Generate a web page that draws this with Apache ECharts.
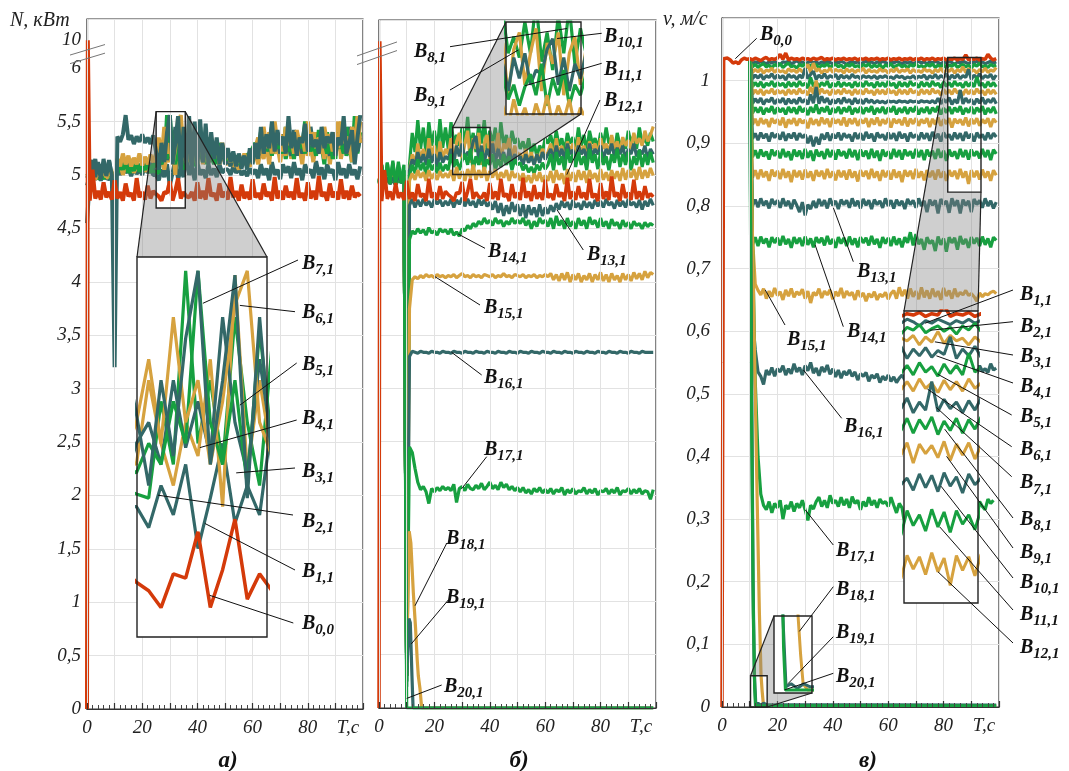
<!DOCTYPE html>
<html>
<head>
<meta charset="utf-8">
<script src="https://cdn.jsdelivr.net/npm/echarts@6.0.0/dist/echarts.min.js"></script>
<style>html,body{margin:0;padding:0;background:#fff}#chart{width:1069px;height:771px}</style>
</head>
<body>
<div id="chart"></div>
<script>
const RED = '#d43a0a', TEAL = '#336868', GOLD = '#d6a23f', GREEN = '#17a040';
const FONT = 'Liberation Serif';

// ---- panel a / b : power N, kW, sampled every 1 s from t = 0 ----
const N_B00_HEAD = [[0, 0], [0.3, 10]];
const N_B00 = [4.76,5.05,4.78,4.85,4.77,4.93,4.79,4.84,4.77,4.95,
  4.78,4.84,4.76,4.92,4.8,4.83,4.76,4.97,4.79,4.84,
  4.77,4.9,4.78,4.85,4.82,4.8,4.76,4.84,4.83,4.94,
  4.76,4.85,4.97,4.78,4.84,4.8,4.79,4.84,4.76,4.93,
  4.78,4.85,4.77,4.97,4.8,4.83,4.76,4.92,4.79,4.84,
  4.77,4.98,4.79,4.85,4.76,4.91,4.78,4.84,4.77,4.96,
  4.79,4.83,4.77,4.92,4.8,4.84,4.76,4.98,4.78,4.85,
  4.77,4.9,4.79,4.84,4.77,4.97,4.79,4.83,4.76,4.93,
  4.78,4.85,4.77,4.99,4.8,4.84,4.76,4.92,4.79,4.84,
  4.77,4.96,4.78,4.85,4.77,4.9,4.79,4.83,4.8]; // from t = 1

const N_B1 = [4.55,4.97,5.0,4.96,4.99,4.95,5.0,4.97,4.96,4.98, 4.97,
  5.05,5.0,5.08,5.02,5.06,4.99,5.07,5.01,5.05,5.0,5.08,5.02,5.05,5.0,
  5.0,4.95,5.05,4.98,5.1,4.9,5.02,5.15,4.96,5.05,4.98,5.2,5.0,5.08,4.95,5.12,5.0,5.05,4.97,5.1,5.0,5.06,4.98,5.1,5.02,5.05,
  5.05,5.0,5.08,5.02,5.06,5.0,5.04,4.99,5.06,5.01,
  5.05,4.97,5.1,5.0,5.06,4.95,5.12,5.0,5.05,4.96,5.1,5.02,5.08,4.97,5.12,5.0,5.06,4.95,5.1,5.02,5.05,4.97,5.13,5.0,5.07,4.96,5.1,5.02,5.05,4.95,5.12,5.0,5.06,4.97,5.1,5.0,5.05,4.96,5.08];
const N_B2 = [4.98,5.0,4.97,5.03,4.96,5.01,4.98,5.02,4.97,5.0, 4.99,
  5.08,5.03,5.12,5.05,5.1,5.02,5.14,5.05,5.09,5.03,5.12,5.06,5.1,5.04,
  5.03,5.02,5.25,5.1,5.56,5.15,5.3,5.1,5.45,5.2,5.05,5.38,5.12,5.3,5.08,5.42,5.15,5.25,5.1,5.35,5.12,5.28,5.1,5.3,5.15,5.2,
  5.12,5.18,5.1,5.15,5.08,5.14,5.1,5.2,5.12,5.25,
  5.3,5.18,5.4,5.22,5.35,5.15,5.45,5.25,5.3,5.2,5.38,5.15,5.28,5.22,5.4,5.18,5.32,5.25,5.5,5.2,5.3,5.15,5.35,5.22,5.28,5.1,5.4,5.2,5.3,5.15,5.45,5.22,5.35,5.18,5.3,5.12,5.55,5.2,5.4];
const N_B3 = [4.97,4.99,5.02,4.96,5.0,4.98,5.03,4.97,5.0,4.98, 4.97,
  5.05,5.12,5.0,5.1,5.04,5.15,5.02,5.1,5.05,5.12,5.03,5.1,5.06,5.12,
  5.1,5.3,5.15,5.05,5.2,5.12,5.35,5.0,5.55,5.08,5.3,5.12,5.4,5.1,5.25,5.15,5.35,5.1,5.28,5.12,5.22,5.15,5.3,5.1,5.2,5.12,
  5.1,5.15,5.08,5.12,5.05,5.15,5.1,5.12,5.08,5.15,
  5.2,5.1,5.25,5.15,5.3,5.1,5.35,5.2,5.28,5.12,5.3,5.18,5.45,5.15,5.32,5.2,5.25,5.1,5.35,5.18,5.3,5.12,5.4,5.2,5.28,5.15,5.33,5.1,5.3,5.2,5.5,5.15,5.3,5.2,5.35,5.12,5.4,5.25,5.5];
const N_B4 = [4.9,4.99,5.02,5.15,4.97,5.1,4.98,5.0,5.14,4.97, 4.98,
  5.1,5.05,5.15,5.08,5.12,5.04,5.14,5.06,5.1,5.03,5.12,5.07,5.11,5.05,
  5.15,5.2,5.1,5.3,5.14,5.25,5.12,5.45,5.2,5.08,5.35,5.15,5.28,5.1,5.4,5.2,5.3,5.12,5.35,5.18,5.28,5.1,5.3,5.15,5.25,5.1,
  5.15,5.08,5.2,5.1,5.14,5.06,5.18,5.1,5.22,5.12,
  5.25,5.18,5.3,5.2,5.35,5.22,5.4,5.25,5.32,5.2,5.38,5.24,5.3,5.18,5.42,5.25,5.35,5.2,5.3,5.22,5.45,5.25,5.33,5.2,5.38,5.26,5.3,5.18,5.4,5.22,5.35,5.25,5.32,5.2,5.45,5.28,5.3,5.22,5.35];
const N_B5 = [4.99,5.03,4.97,5.05,4.98,5.02,4.96,5.04,4.99,5.01, 5.0,
  5.02,5.1,5.05,5.12,5.02,5.08,5.04,5.13,5.03,5.09,5.05,5.11,5.02,5.1,
  5.08,5.15,5.1,5.25,5.15,5.56,5.2,5.1,5.3,5.05,5.42,5.15,5.5,5.1,5.35,5.2,5.45,5.12,5.3,5.18,5.25,5.1,5.3,5.15,5.22,5.18,
  5.14,5.2,5.12,5.18,5.1,5.16,5.12,5.2,5.14,5.22,
  5.18,5.3,5.2,5.42,5.22,5.35,5.18,5.4,5.25,5.3,5.2,5.45,5.22,5.3,5.15,5.38,5.25,5.32,5.2,5.4,5.22,5.3,5.18,5.42,5.25,5.3,5.2,5.35,5.15,5.4,5.25,5.3,5.2,5.45,5.22,5.35,5.25,5.38,5.3];
const N_B6 = [4.98,5.0,5.04,4.97,5.01,4.99,5.03,4.98,5.02,4.99, 4.98,
  5.15,5.08,5.2,5.1,5.18,5.08,5.16,5.1,5.2,5.09,5.17,5.1,5.19,5.12,
  5.2,5.35,5.15,5.45,5.2,5.3,5.1,5.25,5.48,5.56,5.2,5.12,5.45,5.18,5.35,5.1,5.4,5.2,5.3,5.15,5.35,5.2,5.28,5.12,5.3,5.18,
  5.2,5.12,5.18,5.1,5.15,5.12,5.2,5.1,5.18,5.15,
  5.25,5.35,5.2,5.45,5.25,5.4,5.2,5.5,5.3,5.38,5.22,5.45,5.28,5.35,5.2,5.42,5.3,5.36,5.22,5.5,5.28,5.4,5.25,5.35,5.2,5.45,5.3,5.38,5.22,5.4,5.25,5.5,5.3,5.36,5.2,5.45,5.28,5.55,5.3];
const N_B7 = [4.97,5.02,5.14,4.98,5.12,4.96,5.15,4.99,5.13,5.0, 3.2,
  5.36,5.31,5.38,5.56,5.33,5.37,5.29,5.36,5.31,5.38,5.3,5.35,5.29,5.37,
  5.22,5.05,5.3,5.12,5.4,5.56,5.1,5.3,5.55,5.02,5.45,5.1,5.55,5.05,5.5,5.08,5.52,5.12,5.48,5.1,5.4,5.15,5.35,5.1,5.3,5.15,
  5.25,5.12,5.22,5.08,5.2,5.1,5.18,5.05,5.25,5.1,
  5.3,5.15,5.45,5.2,5.38,5.25,5.5,5.22,5.42,5.28,5.36,5.2,5.55,5.25,5.4,5.18,5.35,5.3,5.48,5.22,5.38,5.26,5.33,5.2,5.45,5.25,5.36,5.3,5.4,5.18,5.35,5.28,5.55,5.2,5.3,5.42,5.1,5.35,5.56];

const N_B8 = [4.95,5.08,4.9,5.12,4.93,5.1,4.92,5.13,4.95,5.05, 0.3,
  5.1,5.4,5.22,5.52,5.25,5.45,5.2,5.5,5.28,5.42,5.22,5.53,5.26,5.45,
  5.25,5.5,5.3,5.38,5.28,5.45,5.3,5.55,5.26,5.4,5.22,5.48,5.3,5.52,5.25,5.42,5.3,5.45,5.2,5.5,5.28,5.38,5.22,5.42,5.3,5.35,
  5.25,5.32,5.22,5.35,5.2,5.3,5.18,5.28,5.22,5.35,
  5.3,5.38,5.25,5.42,5.28,5.35,5.22,5.4,5.3,5.36,5.25,5.45,5.28,5.38,5.22,5.42,5.3,5.35,5.25,5.4,5.28,5.45,5.3,5.36,5.22,5.4,5.28,5.33,5.25,5.42,5.3,5.38,5.25,5.45,5.3,5.35,5.28,5.4,5.32];
const N_B9 = [4.96,5.0,4.94,5.03,4.95,5.01,4.93,5.04,4.96,5.0, 0.35,
  5.05,5.2,5.1,5.3,5.15,5.25,5.12,5.35,5.18,5.28,5.1,5.32,5.15,5.25,
  5.2,5.35,5.1,5.32,5.4,5.15,5.3,5.42,5.12,5.35,5.25,5.4,5.1,5.3,5.38,5.15,5.32,5.22,5.4,5.12,5.3,5.25,5.35,5.15,5.28,5.2,
  5.2,5.15,5.25,5.12,5.22,5.1,5.2,5.15,5.25,5.18,
  5.22,5.3,5.15,5.35,5.2,5.28,5.12,5.32,5.22,5.3,5.18,5.36,5.2,5.28,5.15,5.32,5.25,5.3,5.2,5.35,5.25,5.3,5.2,5.38,5.25,5.32,5.22,5.36,5.28,5.33,5.25,5.4,5.3,5.35,5.28,5.42,5.32,5.38,5.46];
const N_B10 = [4.95,4.98,4.93,5.0,4.94,4.99,4.95,5.01,4.94,4.98, 0.3,
  5.05,5.15,5.1,5.22,5.12,5.2,5.1,5.25,5.12,5.2,5.08,5.22,5.12,5.18,
  5.15,5.25,5.12,5.28,5.18,5.3,5.15,5.22,5.2,5.32,5.37,5.15,5.28,5.12,5.25,5.18,5.3,5.12,5.25,5.15,5.22,5.1,5.25,5.12,5.2,5.15,
  5.18,5.1,5.2,5.12,5.18,5.1,5.2,5.12,5.22,5.15,
  5.2,5.25,5.15,5.28,5.18,5.25,5.15,5.3,5.2,5.24,5.15,5.28,5.2,5.25,5.15,5.3,5.18,5.25,5.2,5.28,5.15,5.25,5.2,5.3,5.18,5.26,5.2,5.28,5.15,5.25,5.2,5.3,5.18,5.24,5.2,5.28,5.15,5.25,5.2];
const N_B11 = [4.94,5.1,4.92,5.08,4.95,5.12,4.93,5.06,4.96,5.1, 0.25,
  5.0,5.1,5.02,5.15,5.05,5.12,5.0,5.15,5.05,5.1,5.02,5.12,5.04,5.1,
  5.05,5.2,5.08,5.15,5.05,5.14,5.2,5.1,5.25,5.05,5.18,5.1,5.22,5.05,5.15,5.1,5.2,5.05,5.15,5.08,5.2,5.1,5.18,5.05,5.15,5.1,
  5.12,5.05,5.1,5.03,5.08,5.02,5.1,5.05,5.12,5.06,
  5.1,5.2,5.05,5.22,5.1,5.18,5.05,5.25,5.12,5.2,5.08,5.22,5.1,5.18,5.05,5.25,5.12,5.2,5.06,5.22,5.1,5.18,5.05,5.2,5.12,5.25,5.08,5.2,5.1,5.22,5.05,5.18,5.1,5.24,5.08,5.2,5.1,5.22,5.12];
const N_B12 = [4.97,4.99,4.95,5.02,4.96,4.99,4.94,5.01,4.97,4.99, 0.3,
  4.95,5.02,4.96,5.05,4.98,5.03,4.95,5.05,4.97,5.02,4.96,5.04,4.98,5.02,
  4.98,5.05,4.95,5.08,4.97,5.04,4.95,5.06,4.98,5.1,4.96,5.05,4.98,5.08,4.95,5.04,4.98,5.06,4.96,5.03,4.98,5.05,4.95,5.04,4.98,5.02,
  4.95,5.02,4.94,5.0,4.93,5.02,4.95,5.03,4.94,5.0,
  4.95,5.04,4.93,5.05,4.96,5.02,4.92,5.06,4.95,5.03,4.94,5.05,4.96,5.04,4.93,5.05,4.97,5.02,4.94,5.06,4.96,5.03,4.95,5.05,4.97,5.04,4.95,5.07,4.96,5.05,4.98,5.06,4.96,5.08,4.97,5.05,4.98,5.07,5.0];
const N_B13 = [4.93,4.97,4.9,4.98,4.92,4.96,4.91,4.97,4.93,4.96, 0.2,
  4.72,4.78,4.7,4.77,4.71,4.78,4.72,4.76,4.7,4.78,4.73,4.77,4.71,4.76,
  4.72,4.78,4.7,4.77,4.73,4.79,4.71,4.78,4.72,4.76,4.7,4.78,4.72,4.77,4.71,4.75,4.68,4.76,4.65,4.74,4.62,4.72,4.64,4.75,4.66,4.73,
  4.62,4.73,4.6,4.72,4.63,4.7,4.61,4.73,4.62,4.7,
  4.64,4.72,4.66,4.74,4.68,4.76,4.7,4.75,4.68,4.77,4.7,4.74,4.68,4.76,4.7,4.75,4.69,4.77,4.71,4.76,4.7,4.78,4.72,4.75,4.69,4.77,4.71,4.76,4.7,4.78,4.72,4.75,4.7,4.77,4.68,4.76,4.71,4.78,4.72];
const N_B14 = [4.92,4.99,4.9,4.97,4.93,4.98,4.91,4.96,4.94,4.97, 0.25,
  4.4,4.48,4.45,4.5,4.46,4.49,4.44,4.51,4.46,4.48,4.44,4.5,4.47,4.49,
  4.45,4.5,4.44,4.47,4.43,4.5,4.48,4.53,4.5,4.55,4.52,4.57,4.54,4.6,4.55,4.58,4.53,4.6,4.55,4.58,4.52,4.57,4.54,4.6,4.55,4.58,
  4.55,4.6,4.53,4.58,4.5,4.57,4.52,4.6,4.55,4.58,
  4.52,4.6,4.5,4.62,4.53,4.58,4.5,4.6,4.52,4.57,4.5,4.6,4.53,4.58,4.5,4.61,4.54,4.58,4.51,4.6,4.52,4.57,4.5,4.59,4.53,4.56,4.5,4.58,4.52,4.56,4.5,4.57,4.53,4.55,4.5,4.56,4.52,4.55,4.53];
const N_B15 = [4.95,4.98,4.94,5.0,4.95,4.97,4.93,4.99,4.95,4.97, 0.3,
  3.75,4.02,4.05,4.03,4.06,4.04,4.07,4.05,4.06,4.04,4.07,4.05,4.06,4.04,
  4.06,4.05,4.07,4.04,4.06,4.08,4.05,4.06,4.04,4.07,4.05,4.06,4.04,4.07,4.06,4.05,4.07,4.04,4.06,4.05,4.08,4.05,4.06,4.04,4.07,4.06,
  4.05,4.07,4.04,4.06,4.05,4.07,4.04,4.06,4.05,4.07,
  4.05,4.08,4.02,4.07,4.01,4.08,4.02,4.09,4.0,4.07,4.02,4.08,4.0,4.06,4.02,4.08,4.0,4.07,4.02,4.09,4.01,4.07,4.0,4.08,4.02,4.06,4.0,4.08,4.02,4.07,4.01,4.09,4.03,4.08,4.02,4.1,4.04,4.09,4.07];
const N_B16 = [4.94,4.97,4.93,4.98,4.95,4.96,4.94,4.98,4.95,4.97, 0.3,
  3.3,3.35,3.34,3.33,3.35,3.34,3.34,3.33,3.35,3.34,3.34,3.33,3.35,3.34,
  3.34,3.33,3.35,3.34,3.34,3.33,3.35,3.34,3.34,3.33,3.35,3.34,3.34,3.33,3.35,3.34,3.34,3.33,3.35,3.34,3.34,3.33,3.35,3.34,3.34,3.33,
  3.35,3.34,3.34,3.33,3.35,3.34,3.34,3.33,3.35,3.34,
  3.34,3.33,3.35,3.34,3.34,3.33,3.35,3.34,3.34,3.33,3.35,3.34,3.34,3.33,3.35,3.34,3.34,3.33,3.35,3.34,3.34,3.33,3.35,3.34,3.34,3.33,3.35,3.34,3.34,3.33,3.35,3.34,3.34,3.33,3.35,3.34,3.34,3.34,3.34];
const N_B17 = [4.93,4.98,4.92,4.99,4.94,4.97,4.92,4.98,4.94,4.96, 0.3,
  2.45,2.4,2.25,2.12,2.05,2.08,2.03,1.92,2.06,2.03,2.07,2.04,2.08,2.05,
  2.07,2.04,2.1,1.93,2.06,2.08,2.04,2.1,2.06,2.05,2.09,2.06,2.11,2.05,2.08,2.12,2.06,2.09,2.05,2.12,2.07,2.1,2.05,2.08,2.04,2.07,
  2.03,2.07,2.02,2.05,2.01,2.06,2.03,2.07,2.02,2.05,
  2.02,2.06,2.01,2.05,2.03,2.07,2.0,2.05,2.02,2.06,2.01,2.04,2.03,2.07,2.01,2.05,2.02,2.06,2.0,2.04,2.03,2.06,2.01,2.05,2.02,2.07,2.0,2.04,2.03,2.06,2.01,2.05,2.02,2.06,2.01,2.04,2.03,1.96,2.05];
const N_B18 = [[0,4.95],[1,4.98],[2,4.94],[3,4.99],[4,4.95],[5,4.97],[6,4.93],[7,4.98],[8,4.95],[9,4.97],
  [10,0.4],[10.9,1.66],[11.5,1.55],[12.4,1.08],[13.2,0.75],[13.8,0.45],[14.2,0.3],[14.8,0.18],[15.4,0],[99,0]];
const N_B19 = [[0,4.94],[1,4.99],[2,4.93],[3,4.98],[4,4.94],[5,4.98],[6,4.92],[7,4.99],[8,4.94],[9,4.96],
  [10,0.3],[10.8,0.84],[11.3,0.8],[11.9,0.3],[12.3,0],[99,0]];
const N_B20 = [[0,4.93],[1,5.1],[2,4.9],[3,5.12],[4,4.92],[5,5.14],[6,4.91],[7,5.1],[8,4.93],[9,5.05],[10,0],[99,0]];

// ---- panel c : speed v, m/s; B1..B17 sampled every 1 s from t = 10 ----
const V_B00_HEAD = [[0, 0], [0.6, 1.035]];
const V_B00 = [1.034,1.036,1.033,1.028,1.03,1.027,1.033,1.036,1.034,1.035,
  1.033,1.036,1.034,1.032,1.035,1.037,1.033,1.035,1.034,1.036,
  1.042,1.034,1.044,1.033,1.036,1.034,1.035,1.033,1.036,1.034,
  1.035,1.033,1.036,1.034,1.035,1.037,1.033,1.035,1.034,1.036,
  1.033,1.035,1.034,1.036,1.033,1.035,1.034,1.036,1.033,1.035,
  1.034,1.036,1.033,1.035,1.034,1.036,1.033,1.035,1.034,1.036,
  1.033,1.035,1.034,1.036,1.033,1.035,1.034,1.036,1.033,1.035,
  1.034,1.036,1.033,1.035,1.034,1.036,1.033,1.035,1.034,1.036,
  1.033,1.035,1.034,1.036,1.033,1.035,1.034,1.041,1.033,1.035,
  1.034,1.036,1.033,1.035,1.034,1.042,1.036,1.033,1.035]; // from t = 1

const V_B1 = [1.033,1.027,1.03,1.028,1.031,1.029,1.027,1.03,1.028,1.031,1.028,1.026,1.03,1.029,1.031,1.027,1.029,1.032,1.028,1.03,1.027,1.029,1.031,1.028,1.03,1.027,1.03,1.028,1.031,1.029,1.027,1.03,1.028,1.031,1.029,1.026,1.029,1.031,1.028,1.03,1.027,1.029,1.031,1.028,1.03,1.027,1.03,1.028,1.031,1.029,1.027,1.03,1.028,1.031,1.029,1.027,1.03,1.028,1.03,1.027,1.029,1.031,1.028,1.03,1.027,1.03,1.028,1.031,1.029,1.027,1.03,1.028,1.031,1.029,1.026,1.03,1.028,1.031,1.029,1.027,1.03,1.028,1.031,1.028,1.03,1.027,1.029,1.031,1.028,1.03];
const V_B2 = [1.033,1.022,1.026,1.021,1.025,1.027,1.022,1.025,1.02,1.026,1.023,1.027,1.021,1.025,1.028,1.022,1.024,1.02,1.026,1.023,1.027,1.021,1.025,1.022,1.026,1.02,1.025,1.023,1.027,1.021,1.024,1.026,1.022,1.025,1.02,1.026,1.023,1.027,1.022,1.024,1.021,1.026,1.023,1.027,1.021,1.025,1.022,1.026,1.02,1.025,1.023,1.027,1.021,1.024,1.026,1.022,1.025,1.02,1.026,1.023,1.027,1.022,1.024,1.021,1.026,1.023,1.027,1.021,1.025,1.022,1.026,1.02,1.025,1.023,1.027,1.021,1.024,1.026,1.022,1.025,1.02,1.026,1.023,1.028,1.022,1.024,1.021,1.026,1.023,1.025];
const V_B3 = [1.033,1.013,1.018,1.014,1.019,1.012,1.017,1.015,1.02,1.013,1.018,1.014,1.016,1.012,1.019,1.015,1.017,1.013,1.019,1.014,1.018,1.026,1.013,1.028,1.015,1.019,1.012,1.017,1.014,1.02,1.013,1.018,1.015,1.017,1.012,1.019,1.014,1.018,1.013,1.017,1.015,1.02,1.012,1.018,1.014,1.016,1.013,1.019,1.015,1.017,1.012,1.018,1.014,1.02,1.013,1.017,1.015,1.019,1.012,1.018,1.014,1.016,1.013,1.019,1.015,1.017,1.012,1.018,1.014,1.02,1.013,1.017,1.015,1.019,1.012,1.018,1.014,1.022,1.013,1.019,1.015,1.017,1.012,1.018,1.014,1.02,1.013,1.017,1.015,1.021];
const V_B4 = [1.033,1.003,1.009,1.004,1.01,1.002,1.008,1.005,1.011,1.003,1.009,1.004,1.008,1.001,1.01,1.005,1.008,1.002,1.009,1.004,1.02,1.003,1.01,1.015,1.002,1.009,1.004,1.011,1.003,1.008,1.005,1.01,1.002,1.009,1.004,1.008,1.003,1.01,1.005,1.007,1.003,1.008,1.005,1.007,1.004,1.008,1.003,1.007,1.005,1.008,1.004,1.006,1.003,1.008,1.005,1.007,1.003,1.006,1.004,1.008,1.003,1.007,1.005,1.009,1.002,1.008,1.004,1.01,1.003,1.008,1.005,1.011,1.002,1.009,1.004,1.01,1.003,1.008,1.005,1.018,1.002,1.009,1.004,1.011,1.003,1.008,1.005,1.01,1.002,1.009];
const V_B5 = [1.033,0.99,0.997,0.991,0.998,0.989,0.996,0.992,0.999,0.99,0.997,0.992,0.996,0.989,0.998,0.991,0.997,0.99,0.999,0.992,0.996,0.988,1.005,0.991,0.998,0.99,0.997,0.992,0.999,0.989,0.996,0.991,0.998,0.99,0.997,0.992,0.996,0.989,0.998,0.991,0.997,0.99,0.999,0.992,0.996,0.989,0.998,0.991,0.997,0.99,0.999,0.992,0.996,0.988,0.998,0.991,0.997,0.99,0.999,0.992,0.996,0.989,0.998,0.991,0.997,0.99,0.999,0.992,0.996,0.989,0.998,0.991,0.997,0.99,0.999,0.992,0.996,0.989,0.998,0.991,0.997,0.99,1.006,0.992,0.996,0.989,0.998,0.991,0.997,0.99];
const V_B6 = [1.033,0.978,0.985,0.979,0.986,0.977,0.984,0.98,0.987,0.978,0.985,0.98,0.984,0.977,0.986,0.979,0.985,0.978,0.987,0.98,0.984,0.977,0.99,0.979,1.0,0.978,0.987,0.98,0.984,0.977,0.986,0.979,0.985,0.978,0.987,0.98,0.984,0.977,0.986,0.979,0.985,0.978,0.987,0.98,0.984,0.977,0.986,0.979,0.985,0.978,0.987,0.98,0.984,0.977,0.986,0.979,0.985,0.978,0.987,0.98,0.984,0.977,0.986,0.979,0.985,0.978,0.987,0.98,0.984,0.977,0.986,0.979,0.985,0.978,0.987,0.98,0.984,0.977,0.986,0.979,0.985,0.978,0.987,0.98,0.984,0.977,0.986,0.979,0.985,0.978];
const V_B7 = [1.033,0.963,0.971,0.965,0.972,0.962,0.97,0.966,0.973,0.963,0.97,0.965,0.972,0.962,0.971,0.964,0.97,0.963,0.973,0.965,0.97,0.962,0.978,0.964,0.99,0.963,0.975,0.965,0.972,0.962,0.97,0.964,0.971,0.963,0.973,0.965,0.97,0.962,0.972,0.964,0.97,0.963,0.971,0.965,0.969,0.964,0.968,0.965,0.967,0.964,0.968,0.966,0.967,0.965,0.968,0.966,0.967,0.965,0.968,0.966,0.967,0.965,0.968,0.966,0.967,0.965,0.968,0.964,0.972,0.963,0.97,0.965,0.973,0.962,0.97,0.964,0.985,0.963,0.972,0.965,0.97,0.962,0.971,0.964,0.973,0.963,0.97,0.965,0.972,0.963];
const V_B8 = [1.033,0.948,0.957,0.949,0.958,0.946,0.956,0.95,0.959,0.947,0.957,0.95,0.956,0.946,0.958,0.949,0.957,0.947,0.959,0.95,0.956,0.945,0.958,0.949,0.962,0.947,0.957,0.95,0.959,0.946,0.956,0.949,0.958,0.947,0.957,0.95,0.959,0.946,0.956,0.949,0.958,0.947,0.957,0.95,0.959,0.946,0.956,0.949,0.958,0.947,0.957,0.95,0.959,0.946,0.956,0.949,0.958,0.947,0.957,0.95,0.959,0.946,0.956,0.949,0.958,0.947,0.957,0.95,0.959,0.946,0.956,0.949,0.958,0.947,0.957,0.95,0.959,0.946,0.956,0.949,0.958,0.947,0.957,0.95,0.959,0.946,0.956,0.949,0.958,0.947];
const V_B9 = [1.033,0.93,0.939,0.928,0.94,0.931,0.938,0.926,0.94,0.932,0.938,0.929,0.941,0.925,0.938,0.931,0.94,0.928,0.939,0.932,0.937,0.924,0.94,0.93,0.938,0.928,0.941,0.931,0.939,0.926,0.94,0.932,0.938,0.929,0.941,0.927,0.939,0.931,0.94,0.928,0.938,0.932,0.94,0.926,0.939,0.93,0.941,0.928,0.938,0.931,0.94,0.925,0.939,0.932,0.938,0.929,0.941,0.927,0.939,0.931,0.94,0.928,0.938,0.932,0.94,0.926,0.939,0.93,0.941,0.928,0.938,0.931,0.94,0.925,0.939,0.932,0.938,0.929,0.941,0.927,0.939,0.931,0.94,0.928,0.938,0.932,0.94,0.926,0.939,0.933];
const V_B10 = [1.033,0.907,0.916,0.905,0.917,0.908,0.915,0.903,0.917,0.909,0.915,0.906,0.918,0.904,0.915,0.908,0.917,0.905,0.916,0.909,0.914,0.9,0.912,0.895,0.91,0.898,0.915,0.906,0.917,0.904,0.915,0.908,0.917,0.905,0.916,0.909,0.914,0.903,0.917,0.907,0.916,0.905,0.918,0.908,0.915,0.903,0.917,0.909,0.914,0.905,0.917,0.907,0.916,0.904,0.918,0.908,0.915,0.903,0.917,0.909,0.914,0.905,0.917,0.907,0.916,0.904,0.918,0.908,0.915,0.903,0.917,0.909,0.914,0.905,0.917,0.907,0.916,0.904,0.918,0.908,0.915,0.903,0.917,0.909,0.914,0.905,0.917,0.907,0.916,0.91];
const V_B11 = [1.033,0.878,0.889,0.876,0.89,0.879,0.887,0.874,0.89,0.88,0.888,0.876,0.891,0.878,0.887,0.873,0.89,0.879,0.888,0.875,0.891,0.877,0.888,0.872,0.89,0.879,0.887,0.875,0.891,0.878,0.889,0.874,0.89,0.88,0.887,0.876,0.891,0.878,0.889,0.873,0.89,0.879,0.888,0.875,0.891,0.877,0.888,0.872,0.89,0.879,0.887,0.875,0.891,0.878,0.889,0.874,0.89,0.88,0.887,0.876,0.891,0.878,0.889,0.873,0.89,0.879,0.888,0.875,0.891,0.877,0.888,0.872,0.89,0.879,0.887,0.875,0.891,0.878,0.889,0.874,0.89,0.88,0.887,0.876,0.891,0.878,0.889,0.873,0.89,0.883];
const V_B12 = [1.033,0.845,0.857,0.843,0.858,0.846,0.855,0.84,0.858,0.847,0.856,0.843,0.859,0.845,0.855,0.838,0.857,0.846,0.856,0.842,0.858,0.845,0.855,0.84,0.857,0.847,0.856,0.843,0.859,0.845,0.855,0.841,0.857,0.846,0.856,0.842,0.858,0.845,0.855,0.839,0.857,0.847,0.856,0.843,0.859,0.845,0.855,0.84,0.857,0.846,0.856,0.842,0.858,0.845,0.855,0.838,0.857,0.847,0.856,0.843,0.859,0.845,0.855,0.841,0.857,0.846,0.856,0.842,0.858,0.845,0.855,0.84,0.857,0.847,0.856,0.843,0.859,0.845,0.855,0.835,0.857,0.846,0.856,0.842,0.858,0.845,0.855,0.84,0.857,0.849];
const V_B13 = [1.033,0.8,0.81,0.798,0.812,0.801,0.808,0.796,0.811,0.802,0.809,0.797,0.812,0.8,0.808,0.795,0.81,0.801,0.79,0.806,0.785,0.802,0.795,0.808,0.797,0.811,0.8,0.809,0.796,0.812,0.801,0.808,0.795,0.81,0.802,0.809,0.797,0.812,0.8,0.808,0.796,0.811,0.801,0.809,0.795,0.81,0.802,0.808,0.797,0.812,0.8,0.809,0.796,0.81,0.801,0.808,0.795,0.811,0.802,0.809,0.797,0.812,0.8,0.808,0.79,0.81,0.801,0.809,0.788,0.811,0.802,0.808,0.789,0.812,0.8,0.809,0.788,0.81,0.801,0.808,0.79,0.811,0.802,0.809,0.797,0.812,0.8,0.808,0.796,0.806];
const V_B14 = [1.033,0.738,0.75,0.736,0.751,0.74,0.748,0.734,0.75,0.741,0.749,0.737,0.752,0.739,0.747,0.733,0.75,0.74,0.749,0.736,0.751,0.738,0.748,0.734,0.75,0.741,0.749,0.737,0.752,0.739,0.747,0.733,0.75,0.74,0.749,0.736,0.751,0.738,0.748,0.734,0.75,0.741,0.749,0.737,0.752,0.739,0.747,0.733,0.75,0.74,0.749,0.736,0.751,0.738,0.748,0.734,0.75,0.741,0.758,0.737,0.755,0.739,0.747,0.73,0.75,0.74,0.745,0.728,0.751,0.738,0.748,0.727,0.75,0.741,0.749,0.73,0.752,0.739,0.747,0.733,0.75,0.74,0.749,0.736,0.751,0.738,0.748,0.734,0.75,0.745];
const V_B15 = [1.033,0.75,0.675,0.665,0.658,0.668,0.652,0.664,0.655,0.669,0.657,0.663,0.65,0.666,0.656,0.668,0.654,0.663,0.658,0.667,0.652,0.664,0.645,0.662,0.657,0.668,0.653,0.664,0.658,0.666,0.651,0.663,0.656,0.669,0.653,0.664,0.657,0.662,0.65,0.665,0.655,0.661,0.648,0.66,0.654,0.663,0.65,0.659,0.655,0.662,0.651,0.66,0.665,0.652,0.67,0.656,0.666,0.652,0.668,0.655,0.664,0.651,0.67,0.654,0.665,0.652,0.668,0.655,0.664,0.65,0.669,0.656,0.665,0.652,0.668,0.655,0.662,0.658,0.665,0.657,0.66,0.655,0.648,0.661,0.655,0.66,0.658,0.662,0.664,0.66];
const V_B16 = [1.033,0.62,0.57,0.535,0.528,0.515,0.538,0.53,0.542,0.528,0.54,0.535,0.545,0.53,0.54,0.532,0.548,0.535,0.542,0.53,0.545,0.537,0.55,0.533,0.541,0.529,0.543,0.535,0.546,0.531,0.54,0.527,0.538,0.525,0.536,0.53,0.538,0.528,0.535,0.522,0.532,0.528,0.534,0.52,0.53,0.525,0.532,0.518,0.528,0.522,0.53,0.52,0.527,0.518,0.525,0.53,0.522,0.535,0.526,0.532,0.52,0.534,0.528,0.538,0.525,0.536,0.53,0.54,0.528,0.535,0.53,0.542,0.532,0.538,0.53,0.545,0.533,0.54,0.528,0.542,0.535,0.55,0.532,0.545,0.536,0.54,0.534,0.548,0.538,0.541];
const V_B17 = [1.033,0.75,0.52,0.4,0.34,0.322,0.315,0.328,0.31,0.325,0.318,0.33,0.3,0.322,0.316,0.328,0.312,0.325,0.318,0.33,0.315,0.298,0.322,0.316,0.328,0.335,0.32,0.33,0.318,0.338,0.325,0.33,0.32,0.335,0.322,0.332,0.318,0.336,0.325,0.33,0.315,0.328,0.32,0.335,0.322,0.33,0.318,0.332,0.325,0.328,0.32,0.335,0.322,0.31,0.325,0.318,0.29,0.32,0.315,0.3,0.325,0.318,0.33,0.312,0.325,0.3,0.318,0.328,0.315,0.31,0.322,0.305,0.325,0.318,0.3,0.326,0.32,0.33,0.315,0.33,0.322,0.31,0.3,0.328,0.32,0.315,0.332,0.325,0.33];
const V_B18 = [[10,1.033],[10.8,0.8],[11.8,0.55],[12.7,0.33],[13.5,0.15],[14.1,0.05],[14.5,0.025],[14.9,0.006],[15.6,0.002],[99,0.001]];
const V_B19 = [[10,1.033],[10.6,0.6],[11.2,0.2],[11.7,0.05],[12.2,0.004],[13,0.006],[14,0.003],[15,0.006],[16,0.004],[99,0.003]];
const V_B20 = [[10,1.033],[10.6,0.5],[11.3,0.15],[11.8,0.03],[12.1,0.002],[99,0.002]];

const N_SERIES = [null, N_B1, N_B2, N_B3, N_B4, N_B5, N_B6, N_B7, N_B8, N_B9, N_B10,
  N_B11, N_B12, N_B13, N_B14, N_B15, N_B16, N_B17];
const V_SERIES = [null, V_B1, V_B2, V_B3, V_B4, V_B5, V_B6, V_B7, V_B8, V_B9, V_B10,
  V_B11, V_B12, V_B13, V_B14, V_B15, V_B16, V_B17];

// zoom windows: [main grid, inset grid, x range, y range]
const INSET_A = { main: 0, inset: 3, x: [25.05, 35.6], y: [4.69, 5.593] };
const INSET_B = { main: 1, inset: 4, x: [26.6, 40.1], y: [5.01, 5.45] };
const INSET_C1 = { main: 2, inset: 5, x: [81.5, 93.5], y: [0.822, 1.037] };
const INSET_C2 = { main: 2, inset: 6, x: [10.3, 16.3], y: [0, 0.05] };

// labels: [subscript, grid, anchor x, anchor y, leader end px, text px, align]
const ANNOTATIONS = [
  ['7,1', 3, 30.4, 5.483, 298, 260, 302, 264],
  ['6,1', 3, 33.4, 5.478, 295, 311.7, 302, 313],
  ['5,1', 3, 33.4, 5.241, 296.7, 363, 302, 365],
  ['4,1', 3, 30.15, 5.14, 296.7, 420, 302, 419],
  ['3,1', 3, 33.1, 5.08, 295, 468, 302, 472],
  ['2,1', 3, 26.75, 5.027, 293, 515, 302, 522],
  ['1,1', 3, 30.55, 4.96, 295, 570, 302, 572],
  ['0,0', 3, 30.95, 4.789, 293.3, 623, 302, 624],
  ['8,1', 4, 37.6, 5.419, 450, 46.7, 446, 52, 'right'],
  ['9,1', 4, 28.8, 5.316, 450, 90, 446, 96, 'right'],
  ['10,1', 4, 35.8, 5.371, 601.7, 33.3, 604, 37],
  ['11,1', 4, 30.0, 5.145, 601.7, 63.3, 604, 70],
  ['12,1', 1, 67.8, 5.008, 600, 100, 604, 101],
  ['13,1', 1, 64.2, 4.68, 583.3, 250, 587, 255],
  ['14,1', 1, 28.6, 4.45, 485, 248.3, 488, 252],
  ['15,1', 1, 20.2, 4.05, 480, 305, 484, 308],
  ['16,1', 1, 26.2, 3.34, 481.7, 375, 484, 378],
  ['17,1', 1, 29.9, 2.06, 486.7, 456.7, 484, 450],
  ['18,1', 1, 13.0, 0.96, 446.7, 543.3, 446, 539],
  ['19,1', 1, 11.6, 0.6, 448.3, 600, 446, 598],
  ['20,1', 1, 10.0, 0.09, 441.7, 685, 444, 687],
  ['0,0', 2, 4.8, 1.035, 756.7, 38.3, 760, 35],
  ['13,1', 2, 40.2, 0.797, 853.3, 261.7, 857, 272],
  ['14,1', 2, 33.6, 0.738, 843.3, 326.7, 847, 332],
  ['15,1', 2, 15.6, 0.666, 785, 325, 787, 340],
  ['16,1', 2, 29.4, 0.538, 841.7, 418.3, 844, 427],
  ['17,1', 2, 30.0, 0.315, 833.3, 545, 836, 551],
  ['18,1', 6, 14.3, 0.04, 833.3, 586.7, 836, 590],
  ['19,1', 6, 12.5, 0.006, 833.3, 636.7, 836, 633],
  ['20,1', 6, 11.97, 0.002, 833.3, 673.3, 836, 677],
  ['1,1', 5, 84.9, 1.028, 1013, 290, 1020, 295],
  ['2,1', 5, 85.7, 1.0228, 1013, 321.7, 1020, 326.7],
  ['3,1', 5, 86.5, 1.0143, 1013, 355, 1020, 356.7],
  ['4,1', 5, 86.75, 1.004, 1013, 383, 1020, 386.7],
  ['5,1', 5, 86.96, 0.9905, 1011.7, 415, 1020, 416.7],
  ['6,1', 5, 85.3, 0.9795, 1011.7, 446.7, 1020, 450],
  ['7,1', 5, 86.75, 0.966, 1011.7, 476.7, 1020, 483.3],
  ['8,1', 5, 88.1, 0.95, 1013, 518, 1020, 520],
  ['9,1', 5, 88.4, 0.93, 1013, 548, 1020, 553],
  ['10,1', 5, 87.5, 0.908, 1013, 578, 1020, 583],
  ['11,1', 5, 87.3, 0.878, 1013, 610, 1020, 615],
  ['12,1', 5, 87.0, 0.845, 1013, 643, 1020, 648]
];

const chart = echarts.init(document.getElementById('chart'), null, { renderer: 'canvas' });

function pairs(vals, t0) { return vals.map((v, i) => [t0 + i, v]); }
function colorOf(n) { return [GOLD, TEAL, GREEN][n % 3]; }
function comma(v) { return String(+v.toFixed(2)).replace('.', ','); }

const AXIS_FONT = { fontFamily: FONT, fontStyle: 'italic', fontSize: 19, color: '#222' };

function xMain(g) {
  return {
    gridIndex: g, type: 'value', min: 0, max: 100, interval: 10, z: 5,
    axisLine: { show: true, onZero: false, lineStyle: { color: '#333', width: 1.2 } },
    axisTick: { show: true, inside: true, length: 6, lineStyle: { color: '#333', width: 1.2 } },
    minorTick: { show: true, splitNumber: 5, length: 4, lineStyle: { color: '#444', width: 1 } },
    splitLine: { show: true, lineStyle: { color: '#e2e2e2' } },
    axisLabel: Object.assign({}, AXIS_FONT, {
      margin: 9, showMaxLabel: true,
      formatter: v => v === 100 ? '{t|T,c}' : (v % 20 === 0 ? String(v) : ''),
      rich: { t: Object.assign({}, AXIS_FONT, { padding: [0, 30, 0, 0] }) }
    })
  };
}

function yPower(g, showLabels) {
  return {
    gridIndex: g, type: 'value', min: 0, max: 10.2, interval: 0.5,
    breaks: [{ start: 6, end: 10, gap: 0.26 }],
    breakArea: { show: false },
    axisLine: { show: true, onZero: false, lineStyle: { color: '#333', width: 1.2 } },
    axisTick: { show: false },
    splitLine: { show: true, lineStyle: { color: '#e2e2e2' } },
    axisLabel: Object.assign({}, AXIS_FONT, {
      show: showLabels, margin: 6,
      formatter: v => Math.abs(v * 2 - Math.round(v * 2)) > 1e-6 ? '' : comma(v)
    })
  };
}

function ySpeed(g) {
  return {
    gridIndex: g, type: 'value', min: 0, max: 1.1, interval: 0.1,
    axisLine: { show: true, onZero: false, lineStyle: { color: '#333', width: 1.2 } },
    axisTick: { show: false },
    splitLine: { show: true, lineStyle: { color: '#e2e2e2' } },
    axisLabel: Object.assign({}, AXIS_FONT, {
      margin: 12, formatter: v => v > 1.05 ? '' : comma(v)
    })
  };
}

function hidden(g, range) {
  return { gridIndex: g, type: 'value', min: range[0], max: range[1], show: false };
}

function line(data, color, g, width, z) {
  return {
    type: 'line', data, xAxisIndex: g, yAxisIndex: g, symbol: 'none', showSymbol: false,
    lineStyle: { color, width }, itemStyle: { color }, z: z || 2, clip: true,
    silent: true, animation: false
  };
}

const redN = N_B00_HEAD.concat(pairs(N_B00, 1));
const redV = V_B00_HEAD.concat(pairs(V_B00, 1));
const tailN = { 18: N_B18, 19: N_B19, 20: N_B20 };
const tailV = { 18: V_B18, 19: V_B19, 20: V_B20 };
function dataN(n) { return tailN[n] || pairs(N_SERIES[n], 0); }
function dataV(n) { return tailV[n] || pairs(V_SERIES[n], 10); }

const series = [];
// panel a and its inset
for (let n = 1; n <= 7; n++) series.push(line(dataN(n), colorOf(n), 0, 4));
series.push(line(redN, RED, 0, 4));
for (let n = 1; n <= 7; n++) series.push(line(dataN(n), colorOf(n), 3, 3.2, 20));
series.push(line(redN, RED, 3, 3.5, 20));
// panel b and its inset
for (let n = 8; n <= 20; n++) series.push(line(dataN(n), colorOf(n), 1, 3.2));
series.push(line(redN, RED, 1, 3.5));
for (let n = 8; n <= 12; n++) series.push(line(dataN(n), colorOf(n), 4, 3.2, 20));
// panel c and its insets
for (let n = 1; n <= 20; n++) series.push(line(dataV(n), colorOf(n), 2, 3.2));
series.push(line(redV, RED, 2, 3.5));
for (let n = 1; n <= 12; n++) series.push(line(dataV(n), colorOf(n), 5, 3, 20));
series.push(line(redV, RED, 5, 3.5, 20));
for (let n = 18; n <= 20; n++) series.push(line(dataV(n), colorOf(n), 6, 3, 20));

const frame = { show: true, borderColor: '#333', borderWidth: 1.2, backgroundColor: 'transparent' };

chart.setOption({
  animation: false,
  backgroundColor: '#fff',
  grid: [
    Object.assign({ left: 87, top: 19, width: 276, height: 690 }, frame),
    Object.assign({ left: 379, top: 20, width: 277, height: 688 }, frame),
    Object.assign({ left: 722, top: 18, width: 277, height: 689 }, frame),
    { left: 137, top: 257, width: 130, height: 380 },
    { left: 506, top: 22, width: 75, height: 92 },
    { left: 904, top: 311, width: 74, height: 292 },
    { left: 774, top: 616, width: 38, height: 77 }
  ],
  xAxis: [xMain(0), xMain(1), xMain(2),
    hidden(3, INSET_A.x), hidden(4, INSET_B.x), hidden(5, INSET_C1.x), hidden(6, INSET_C2.x)],
  yAxis: [yPower(0, true), yPower(1, false), ySpeed(2),
    hidden(3, INSET_A.y), hidden(4, INSET_B.y), hidden(5, INSET_C1.y), hidden(6, INSET_C2.y)],
  series
});

// ---- decorations: zoom boxes, leader lines, labels ----
function px(g, x, y) { return chart.convertToPixel({ gridIndex: g }, [x, y]); }
function corners(g, xr, yr) {
  return {
    tl: px(g, xr[0], yr[1]), tr: px(g, xr[1], yr[1]),
    bl: px(g, xr[0], yr[0]), br: px(g, xr[1], yr[0])
  };
}
function rectOf(c) {
  return { x: c.tl[0], y: c.tl[1], width: c.br[0] - c.tl[0], height: c.br[1] - c.tl[1] };
}

const graphics = [];
const ZOOMS = [
  [INSET_A, [['b', 'tl'], ['i', 'tl'], ['i', 'tr'], ['b', 'tr'], ['b', 'br'], ['b', 'bl']], [['tl', 'tl'], ['tr', 'tr']]],
  [INSET_B, [['b', 'tl'], ['i', 'tl'], ['i', 'bl'], ['i', 'br'], ['b', 'br'], ['b', 'tr']], [['tl', 'tl'], ['br', 'br']]],
  [INSET_C1, [['b', 'tl'], ['i', 'tl'], ['i', 'tr'], ['b', 'br'], ['b', 'bl']], [['tl', 'tl'], ['br', 'tr']]],
  [INSET_C2, [['b', 'tl'], ['i', 'tl'], ['i', 'bl'], ['i', 'br'], ['b', 'br'], ['b', 'tr']], [['tl', 'tl'], ['br', 'br']]]
];
ZOOMS.forEach(([z, poly, links]) => {
  const b = corners(z.main, z.x, z.y);
  const i = corners(z.inset, z.x, z.y);
  const pick = (w, c) => (w === 'b' ? b : i)[c];
  graphics.push({ type: 'rect', z: 10, silent: true, shape: rectOf(i), style: { fill: '#fff' } });
  graphics.push({ type: 'polygon', z: 12, silent: true,
    shape: { points: poly.map(p => pick(p[0], p[1])) },
    style: { fill: 'rgba(130,130,130,0.38)' } });
  links.forEach(([cb, ci]) => graphics.push({ type: 'line', z: 25, silent: true,
    shape: { x1: b[cb][0], y1: b[cb][1], x2: i[ci][0], y2: i[ci][1] },
    style: { stroke: '#222', lineWidth: 1.2 } }));
  graphics.push({ type: 'rect', z: 25, silent: true, shape: rectOf(b), style: { fill: 'none', stroke: '#222', lineWidth: 1.4 } });
  graphics.push({ type: 'rect', z: 25, silent: true, shape: rectOf(i), style: { fill: 'none', stroke: '#222', lineWidth: 1.4 } });
});

const LABEL_RICH = {
  b: { fontFamily: FONT, fontSize: 20, fontWeight: 'bold', fontStyle: 'italic', fill: '#111', lineHeight: 20, verticalAlign: 'top' },
  s: { fontFamily: FONT, fontSize: 15, fontWeight: 'bold', fontStyle: 'italic', fill: '#111', lineHeight: 15, padding: [9, 0, 0, 0], verticalAlign: 'top' }
};
ANNOTATIONS.forEach(([sub, g, x, y, ex, ey, tx, ty, align]) => {
  const p = px(g, x, y);
  graphics.push({ type: 'line', z: 30, silent: true,
    shape: { x1: p[0], y1: p[1], x2: ex, y2: ey }, style: { stroke: '#111', lineWidth: 1 } });
  graphics.push({ type: 'text', z: 30, silent: true, x: tx, y: ty,
    style: { text: '{b|B}{s|' + sub + '}', rich: LABEL_RICH, align: align || 'left', verticalAlign: 'middle' } });
});

// axis break marks between 6 and 10
const y6 = px(0, 0, 6)[1], y10 = px(0, 0, 10)[1], ym = (y6 + y10) / 2;
const axA = px(0, 0, 0)[0], axAB = (px(0, 100, 0)[0] + px(1, 0, 0)[0]) / 2;
[-4.3, 4.3].forEach(d => {
  graphics.push({ type: 'line', z: 30, silent: true,
    shape: { x1: axA - 17, y1: ym + d + 5.1, x2: axA + 18, y2: ym + d - 5.4 }, style: { stroke: '#777', lineWidth: 1 } });
  graphics.push({ type: 'line', z: 30, silent: true,
    shape: { x1: axAB - 14, y1: ym + d + 6, x2: axAB + 26, y2: ym + d - 8 }, style: { stroke: '#777', lineWidth: 1 } });
});

// titles
const TITLE_FONT = 'italic 20px "Liberation Serif"';
graphics.push({ type: 'text', x: 10, y: 21, style: { text: 'N, кВт', font: TITLE_FONT, fill: '#222', verticalAlign: 'middle' } });
graphics.push({ type: 'text', x: 663, y: 20, style: { text: 'v, м/с', font: TITLE_FONT, fill: '#222', verticalAlign: 'middle' } });
const PANEL_FONT = 'italic bold 23px "Liberation Serif"';
[['а)', 228], ['б)', 519], ['в)', 868]].forEach(([t, x]) => graphics.push({ type: 'text', x, y: 761,
  style: { text: t, font: PANEL_FONT, fill: '#111', align: 'center', verticalAlign: 'middle' } }));

chart.setOption({ graphic: { elements: graphics } });
window.addEventListener('resize', () => chart.resize());
</script>
</body>
</html>
